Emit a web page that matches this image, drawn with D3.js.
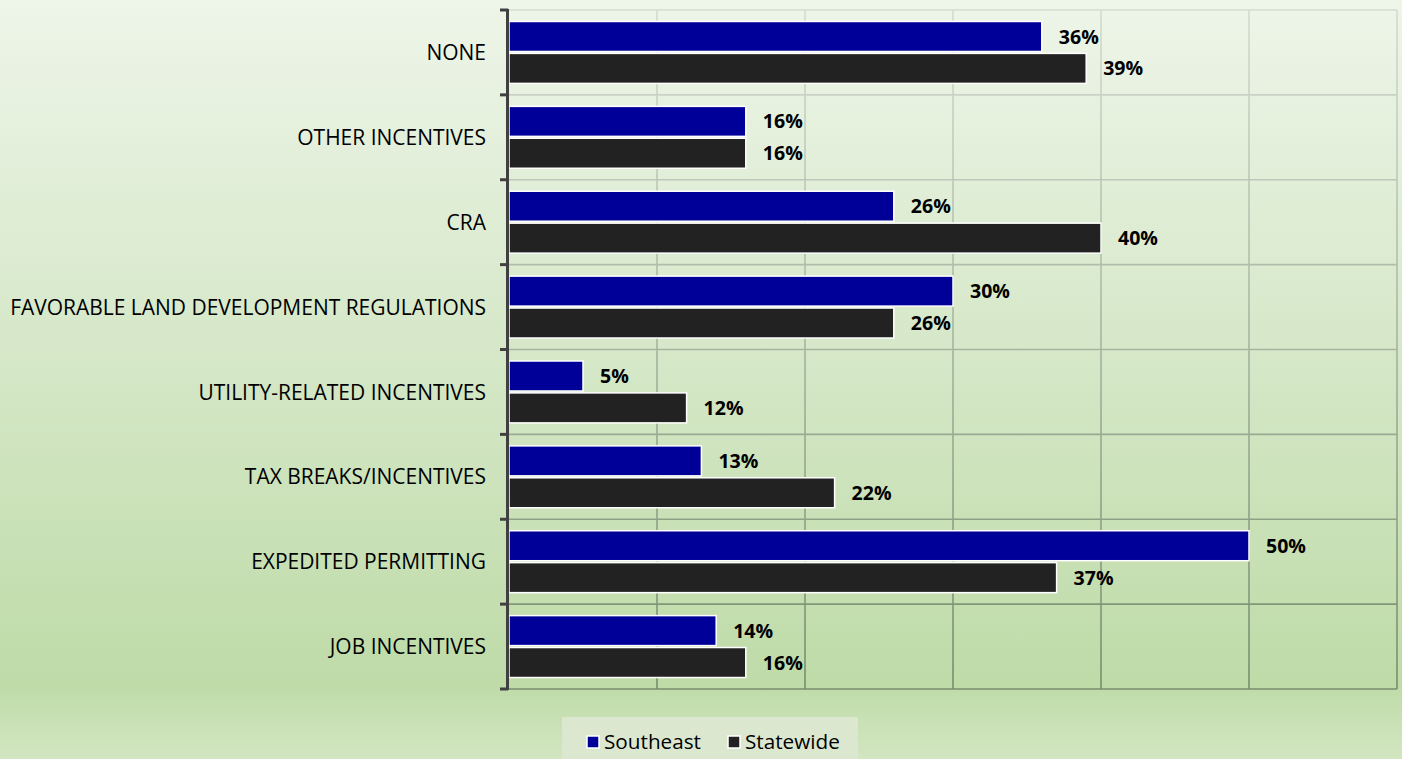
<!DOCTYPE html>
<html><head><meta charset="utf-8">
<script src="https://cdn.jsdelivr.net/npm/d3@7"></script>
<style>
html,body{margin:0;padding:0;overflow:hidden;}
svg{display:block;font-family:"Open Sans", "Noto Sans", sans-serif;}
</style></head>
<body>
<svg id="chart" width="1402" height="759"></svg>
<script>
const categories = ["NONE","OTHER INCENTIVES","CRA","FAVORABLE LAND DEVELOPMENT REGULATIONS","UTILITY-RELATED INCENTIVES","TAX BREAKS/INCENTIVES","EXPEDITED PERMITTING","JOB INCENTIVES"];
const seriesNames = ["Southeast","Statewide"];
const southeast = [36,16,26,30,5,13,50,14];
const statewide = [39,16,40,26,12,22,37,16];
const xTicks = [0,10,20,30,40,50,60];
const colors = ["#000099","#222222"];

const FONT = "'Open Sans', 'Noto Sans', sans-serif";
const svg = d3.select("#chart");
const W = 1402, H = 759;
const m = {left:509, right:1397, top:10, bottom:689};

function fitSize(sel, targetW, baseSize){
  let maxW = 0;
  sel.each(function(){ maxW = Math.max(maxW, this.getComputedTextLength()); });
  return baseSize * targetW / maxW;
}

const defs = svg.append("defs");
const bg = defs.append("linearGradient").attr("id","bg").attr("x1",0).attr("y1",0).attr("x2",0).attr("y2",1);
bg.append("stop").attr("offset","0").attr("stop-color","#eef5e9");
bg.append("stop").attr("offset","0.45").attr("stop-color","#d6e8c9");
bg.append("stop").attr("offset","0.9").attr("stop-color","#bfdba8");
bg.append("stop").attr("offset","1").attr("stop-color","#d2e6c1");
svg.append("rect").attr("width",W).attr("height",H).attr("fill","url(#bg)");

const gridTop = "#d3dbd0", gridBot = "#788c6c";
const gg = defs.append("linearGradient").attr("id","gridg").attr("gradientUnits","userSpaceOnUse")
  .attr("x1",0).attr("y1",m.top).attr("x2",0).attr("y2",m.bottom);
gg.append("stop").attr("offset","0").attr("stop-color",gridTop);
gg.append("stop").attr("offset","1").attr("stop-color",gridBot);
const gridColor = d3.scaleLinear().domain([m.top,m.bottom]).range([gridTop,gridBot]).interpolate(d3.interpolateRgb);

const x = d3.scaleLinear().domain([0,60]).range([m.left,m.right]);
const y = d3.scaleBand().domain(categories).range([m.top,m.bottom]).paddingInner(0).paddingOuter(0);

svg.append("g").selectAll("line").data(xTicks.slice(1)).join("line")
  .attr("x1",d=>x(d)).attr("x2",d=>x(d)).attr("y1",m.top).attr("y2",m.bottom)
  .attr("stroke","url(#gridg)").attr("stroke-width",1.6);
const hb = categories.map(c=>y(c)).concat([m.bottom]);
svg.append("g").selectAll("line").data(hb).join("line")
  .attr("x1",m.left).attr("x2",m.right).attr("y1",d=>d).attr("y2",d=>d)
  .attr("stroke",d=>gridColor(d)).attr("stroke-width",1.6);

const inner = d3.scaleBand().domain(seriesNames).range([0,y.bandwidth()]).paddingInner(0.06).paddingOuter(0.36);
const data = categories.map((c,i)=>({cat:c, vals:[southeast[i],statewide[i]]}));
const groups = svg.append("g").selectAll("g").data(data).join("g")
  .attr("transform",d=>`translate(0,${y(d.cat)})`);
groups.selectAll("rect").data(d=>d.vals.map((v,j)=>({v,s:seriesNames[j],j}))).join("rect")
  .attr("x",x(0)).attr("y",d=>inner(d.s)).attr("width",d=>x(d.v)-x(0)).attr("height",inner.bandwidth())
  .attr("fill",d=>colors[d.j]).attr("stroke","#ffffff").attr("stroke-width",1.5);
const vl = groups.selectAll("text").data(d=>d.vals.map((v,j)=>({v,s:seriesNames[j],j}))).join("text")
  .attr("x",d=>x(d.v)+17).attr("y",d=>inner(d.s)+inner.bandwidth()/2)
  .attr("dy","0.36em").attr("font-size",17).attr("font-weight","bold").attr("fill","#000")
  .attr("font-family",FONT)
  .text(d=>d.v+"%");
const vlRef = vl.filter(d=>d.v===36);
vl.attr("font-size", fitSize(vlRef, 40, 17));

const yAxis = d3.axisLeft(y).tickSize(0).tickPadding(22);
const ax = svg.append("g").attr("transform",`translate(${m.left-1},0)`).call(yAxis);
ax.select(".domain").remove();
const at = ax.selectAll("text").attr("font-size",18).attr("fill","#000").attr("font-family",FONT).attr("dy","0.36em");
at.attr("font-size", fitSize(at, 476, 18));

svg.append("line").attr("x1",m.left-1.5).attr("x2",m.left-1.5).attr("y1",m.top-1).attr("y2",m.bottom+1)
  .attr("stroke","#404040").attr("stroke-width",3);
svg.append("g").selectAll("line").data(hb).join("line")
  .attr("x1",m.left-9).attr("x2",m.left-1).attr("y1",d=>d).attr("y2",d=>d)
  .attr("stroke","#404040").attr("stroke-width",3);

const lg = svg.append("g");
lg.append("rect").attr("x",562).attr("y",717).attr("width",296).attr("height",42).attr("fill","#dbe8cf");
const items = [{n:seriesNames[0],c:colors[0],x:587},{n:seriesNames[1],c:colors[1],x:728}];
const lt = [];
items.forEach(it=>{
  lg.append("rect").attr("x",it.x).attr("y",736).attr("width",12).attr("height",12)
    .attr("fill",it.c).attr("stroke","#fff").attr("stroke-width",1.5);
  lt.push(lg.append("text").attr("x",it.x+17).attr("y",742).attr("dy","0.36em").attr("font-size",19)
    .attr("fill","#000").attr("font-family",FONT).text(it.n).node());
});
const lsize = fitSize(d3.select(lt[0]), 97, 19);
d3.selectAll(lt).attr("font-size", lsize);
</script>
</body></html>
